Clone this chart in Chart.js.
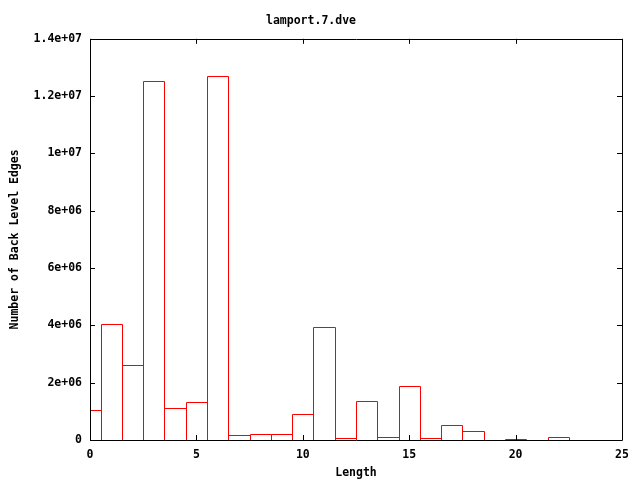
<!DOCTYPE html>
<html>
<head>
<meta charset="utf-8">
<script src="https://cdn.jsdelivr.net/npm/chart.js@4/dist/chart.umd.min.js"></script>
<style>
  html, body { margin: 0; padding: 0; background: #fff; }
</style>
</head>
<body>
<canvas id="myChart" width="640" height="480"></canvas>
<script>
var titulo = 'lamport.7.dve';
var tituloX = 'Length';
var tituloY = 'Number of Back Level Edges';

// comprimento (x) e quantidade de arestas (y)
var comprimentos = [0, 1, 2, 3, 4, 5, 6, 7, 8, 9, 10, 11, 12, 13, 14, 15, 16, 17, 18, 19, 20, 21, 22, 23, 24];
var arestas = [1050000, 4040000, 2610000, 12520000, 1110000, 1320000, 12710000, 160000, 200000, 200000,
               900000, 3930000, 60000, 1360000, 100000, 1870000, 60000, 510000, 300000, 0,
               30000, 0, 100000, 0, 0];

var ticksX = [0, 5, 10, 15, 20, 25];
var ticksY = [0, 2e6, 4e6, 6e6, 8e6, 1e7, 1.2e7, 1.4e7];

var corCaixa = '#ff0000';
var fonte = { family: 'DejaVu Sans Mono', size: 11.5, weight: 'bold' };

function formatarGnuplot(v) {
    if (v == 0) return '0';
    let exp = Math.floor(Math.log10(v) + 1e-9);
    let mant = +(v / Math.pow(10, exp)).toFixed(3);
    let e = (exp < 10 ? '0' : '') + exp;
    return mant + 'e+' + e;
}

// contorno das caixas alinhado ao pixel (usa a geometria calculada pelo chart)
var caixas = {
    id: 'caixas',
    afterDatasetsDraw: function(chart) {
        let ctx = chart.ctx;
        let a = chart.chartArea;
        ctx.save();
        ctx.beginPath();
        ctx.rect(a.left, a.top, a.right - a.left, a.bottom - a.top);
        ctx.clip();
        ctx.strokeStyle = corCaixa;
        ctx.lineWidth = 1;
        chart.getDatasetMeta(0).data.forEach(function(bar) {
            let p = bar.getProps(['x', 'y', 'base', 'width'], true);
            if (Math.abs(p.base - p.y) < 0.5) return;
            let l = Math.round(p.x - p.width / 2) + 0.5;
            let r = Math.round(p.x + p.width / 2) + 0.5;
            let t = Math.round(p.y) + 0.5;
            let b = Math.round(p.base);
            ctx.beginPath();
            ctx.moveTo(l, b); ctx.lineTo(l, t); ctx.lineTo(r, t); ctx.lineTo(r, b);
            ctx.stroke();
        });
        ctx.restore();
    }
};

// moldura e ticks para dentro, estilo gnuplot
var moldura = {
    id: 'moldura',
    afterDraw: function(chart) {
        let ctx = chart.ctx;
        let a = chart.chartArea;
        let sx = chart.scales.x;
        let sy = chart.scales.y;
        let t = 5;
        ctx.save();
        ctx.strokeStyle = '#000';
        ctx.lineWidth = 1;
        ctx.beginPath();
        ctx.rect(Math.round(a.left) + 0.5, Math.round(a.top) + 0.5,
                 Math.round(a.right - a.left), Math.round(a.bottom - a.top));
        ticksX.forEach(function(v) {
            let px = Math.round(sx.getPixelForValue(v)) + 0.5;
            ctx.moveTo(px, a.bottom); ctx.lineTo(px, a.bottom - t);
            ctx.moveTo(px, a.top); ctx.lineTo(px, a.top + t);
        });
        ticksY.forEach(function(v) {
            let py = Math.round(sy.getPixelForValue(v)) + 0.5;
            ctx.moveTo(a.left, py); ctx.lineTo(a.left + t, py);
            ctx.moveTo(a.right, py); ctx.lineTo(a.right - t, py);
        });
        ctx.stroke();
        ctx.restore();
    }
};

var ctx = document.getElementById('myChart').getContext('2d');
var myChart = new Chart(ctx, {
    type: 'bar',
    data: {
        datasets: [{
            label: tituloY,
            data: comprimentos.map(function(c, i) { return { x: c, y: arestas[i] }; }),
            backgroundColor: 'rgba(255,255,255,0)',
            borderColor: corCaixa,
            borderWidth: 0,
            barPercentage: 1,
            categoryPercentage: 1
        }]
    },
    options: {
        responsive: false,
        animation: false,
        layout: { padding: { left: 0, right: 18, top: 0, bottom: 0 } },
        plugins: {
            legend: { display: false },
            tooltip: { enabled: false },
            title: {
                display: true,
                text: titulo,
                color: '#000',
                font: fonte,
                padding: { top: 14.5, bottom: 10.5 }
            }
        },
        scales: {
            x: {
                type: 'linear',
                offset: false,
                min: 0,
                max: 25,
                afterBuildTicks: function(s) { s.ticks = ticksX.map(function(v) { return { value: v }; }); },
                afterFit: function(s) { s.height = 40; },
                grid: { display: false, drawTicks: false },
                border: { display: false },
                ticks: { color: '#000', font: fonte, padding: 8, maxRotation: 0 },
                title: { display: true, text: tituloX, color: '#000', font: fonte, padding: { top: 5, bottom: 0 } }
            },
            y: {
                min: 0,
                max: 1.4e7,
                afterBuildTicks: function(s) { s.ticks = ticksY.map(function(v) { return { value: v }; }); },
                afterFit: function(s) { s.width = 90; },
                grid: { display: false, drawTicks: false },
                border: { display: false },
                ticks: {
                    color: '#000', font: fonte, padding: 8,
                    callback: function(v) { return formatarGnuplot(v); }
                },
                title: { display: true, text: tituloY, color: '#000', font: fonte, padding: { top: 8, bottom: 0 } }
            }
        }
    },
    plugins: [caixas, moldura]
});
</script>
</body>
</html>
